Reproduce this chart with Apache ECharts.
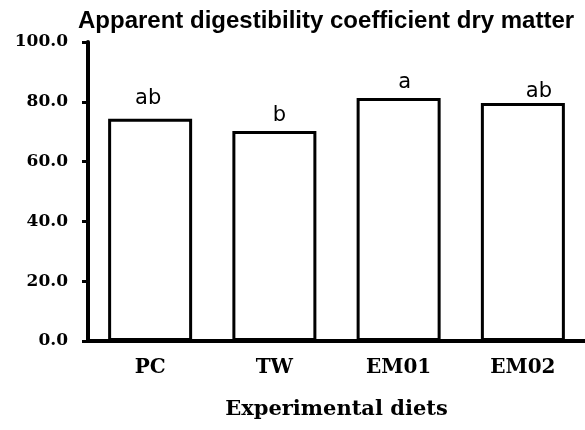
<!DOCTYPE html>
<html>
<head>
<meta charset="utf-8">
<script src="https://cdn.jsdelivr.net/npm/echarts@6/dist/echarts.min.js"></script>
<style>html,body{margin:0;padding:0;background:#fff}#c{width:585px;height:430px}</style>
</head>
<body>
<div id="c"></div>
<script>
var categories = ['PC', 'TW', 'EM01', 'EM02'];
var values = [74.3, 70.2, 81.3, 79.6];
var letters = ['ab', 'b', 'a', 'ab'];
var labelOffsets = [[-2, -5], [5, 0], [6, 0], [16, 4]];
var yTicks = [0, 20, 40, 60, 80, 100];

var chart = echarts.init(document.getElementById('c'), null, {renderer: 'canvas'});
var data = values.map(function (v, i) {
  return {value: v, label: {formatter: letters[i], offset: labelOffsets[i]}};
});
chart.setOption({
  animation: false,
  backgroundColor: '#fff',
  title: {
    text: 'Apparent digestibility coefficient dry matter',
    left: 73, top: 4,
    textStyle: {fontFamily: 'Liberation Sans', fontWeight: 'bold', fontSize: 24, color: '#000'}
  },
  grid: {left: 88, top: 42, width: 500, height: 299, containLabel: false},
  xAxis: {
    type: 'category',
    data: categories,
    name: 'Experimental diets',
    nameLocation: 'middle',
    nameGap: 58,
    nameTextStyle: {fontFamily: 'DejaVu Serif', fontWeight: 'bold', fontSize: 21, color: '#000'},
    axisLine: {lineStyle: {color: '#000', width: 4}},
    axisTick: {show: true, alignWithLabel: true, inside: true, length: 4, lineStyle: {color: '#000', width: 2}},
    axisLabel: {margin: 17, fontFamily: 'DejaVu Serif', fontWeight: 'bold', fontSize: 20, color: '#000'}
  },
  yAxis: {
    type: 'value',
    min: yTicks[0], max: yTicks[yTicks.length - 1], interval: 20,
    axisLine: {show: true, lineStyle: {color: '#000', width: 4}},
    axisTick: {show: true, inside: false, length: 6, lineStyle: {color: '#000', width: 3}},
    splitLine: {show: false},
    axisLabel: {
      margin: 20, fontFamily: 'DejaVu Serif', fontWeight: 'bold', fontSize: 17, color: '#000',
      formatter: function (v) { return v.toFixed(1); }
    }
  },
  series: [{
    type: 'bar',
    data: data,
    barWidth: 84,
    itemStyle: {color: '#fff', borderColor: '#000', borderWidth: 3},
    label: {show: true, position: 'top', distance: 5, fontFamily: 'DejaVu Sans', fontSize: 21, color: '#000'}
  }]
});
</script>
</body>
</html>
